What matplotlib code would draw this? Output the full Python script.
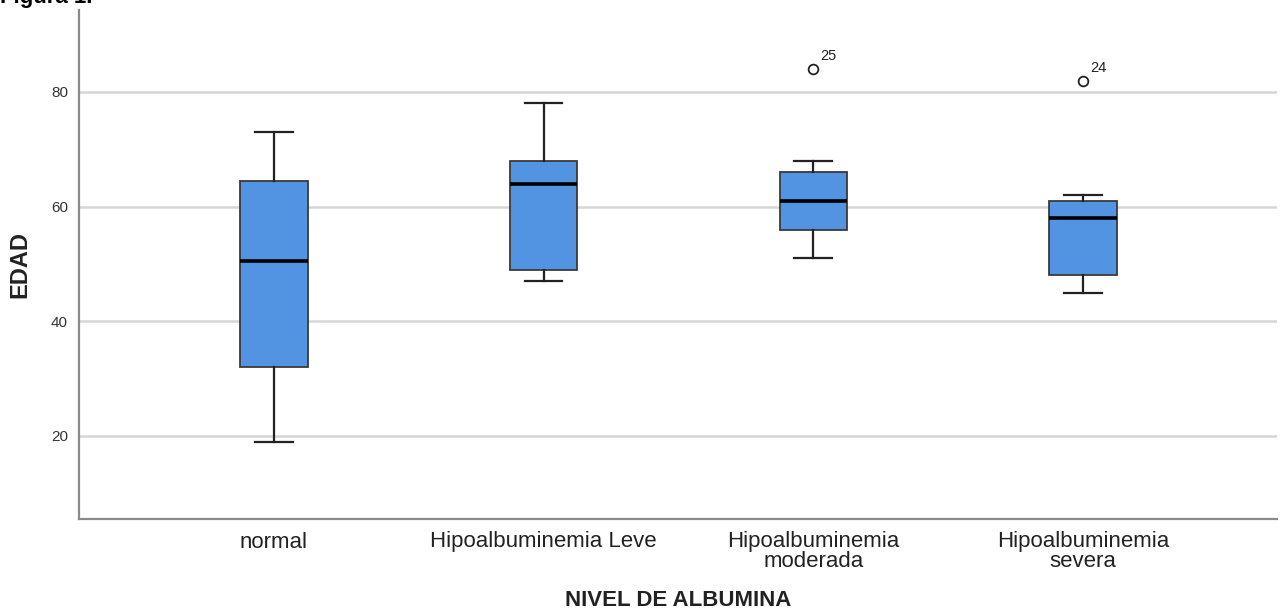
import matplotlib
matplotlib.use("Agg")
import matplotlib.pyplot as plt

categories = ["normal", "Hipoalbuminemia Leve", "Hipoalbuminemia\nmoderada", "Hipoalbuminemia\nsevera"]
whislo = [19, 47, 51, 45]
q1 = [32, 49, 56, 48]
med = [50.5, 64, 61, 58]
q3 = [64.5, 68, 66, 61]
whishi = [73, 78, 68, 62]
outliers = [[], [], [84], [82]]
outlier_ids = [[], [], ["25"], ["24"]]
yticks = [20, 40, 60, 80]

FONT = "Liberation Sans"

fig = plt.figure(figsize=(12.83, 6.12), dpi=100)
ax = fig.add_axes([79/1283, 1-519/612, (1277-79)/1283, (519-10)/612])

stats = []
for i in range(len(categories)):
    stats.append(dict(whislo=whislo[i], q1=q1[i], med=med[i], q3=q3[i],
                      whishi=whishi[i], fliers=outliers[i]))

positions = list(range(1, len(categories)+1))
ax.bxp(stats, positions=positions, widths=0.25, patch_artist=True,
       boxprops=dict(facecolor="#5294E2", edgecolor="#3a3a3a", linewidth=1.3),
       medianprops=dict(color="black", linewidth=2.6),
       whiskerprops=dict(color="#222222", linewidth=1.6),
       capprops=dict(color="#222222", linewidth=1.6),
       capwidths=0.14,
       flierprops=dict(marker="o", markerfacecolor="none", markeredgecolor="#222222",
                       markersize=7, markeredgewidth=1.3),
       zorder=3)

for i, (vals, ids) in enumerate(zip(outliers, outlier_ids)):
    for v, t in zip(vals, ids):
        ax.annotate(t, (positions[i], v), xytext=(5, 4), textcoords="offset points",
                    fontsize=10.5, color="#222222", family=FONT, va="bottom", ha="left")

ax.set_xlim(0.277, 4.72)
ax.set_ylim(5.5, 94.3)
ax.set_yticks(yticks)
ax.set_xticks(positions)
ax.set_xticklabels(categories, family=FONT, fontsize=16, color="#222222", linespacing=0.9)
ax.set_yticklabels([str(t) for t in yticks], family=FONT, fontsize=11, color="#333333")
ax.tick_params(axis="both", length=0)
ax.tick_params(axis="x", pad=9)
ax.tick_params(axis="y", pad=8)
ax.yaxis.grid(True, color="#d6d6d6", linewidth=1.8, zorder=0)
ax.set_axisbelow(True)
for s in ["top", "right"]:
    ax.spines[s].set_visible(False)
for s in ["left", "bottom"]:
    ax.spines[s].set_color("#8a8a8a")
    ax.spines[s].set_linewidth(1.6)

ax.set_ylabel("EDAD", family=FONT, fontsize=17, fontweight="bold", color="#222222", labelpad=14)
ax.set_xlabel("NIVEL DE ALBUMINA", family=FONT, fontsize=16, fontweight="bold", color="#222222", labelpad=13)

fig.text(0.0, 1 - 3/612, "Figura 1.", family=FONT, fontsize=16, fontweight="bold",
         va="baseline", ha="left", color="black")

fig.savefig("out.png", dpi=100)
